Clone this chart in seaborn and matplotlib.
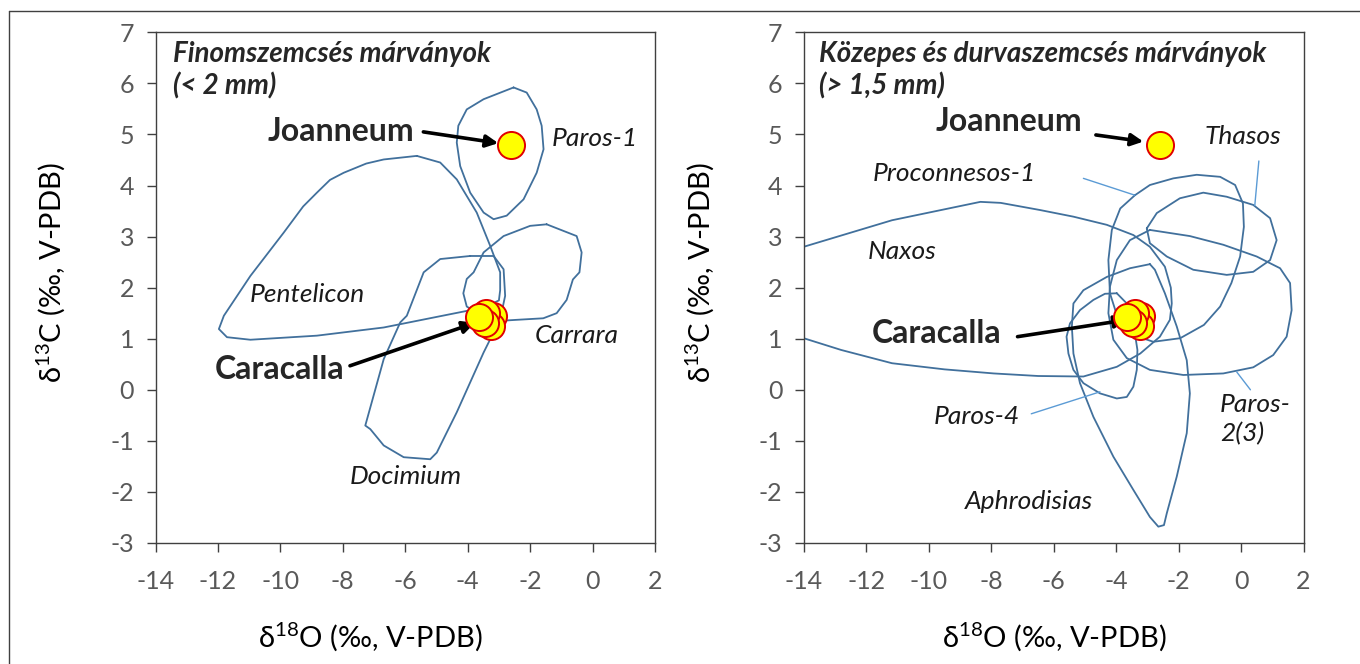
import matplotlib
matplotlib.use("Agg")
import matplotlib.pyplot as plt
from matplotlib.lines import Line2D
import seaborn as sns

# ── Data ─────────────────────────────────────────────────────────────────────

X_TICKS = [-14, -12, -10, -8, -6, -4, -2, 0, 2]
Y_TICKS = [-3, -2, -1, 0, 1, 2, 3, 4, 5, 6, 7]

# measured samples (same in both panels)
joanneum_x = [-2.6]
joanneum_y = [4.8]
caracalla_x = [-3.2, -3.25, -3.4, -3.45, -3.65]
caracalla_y = [1.45, 1.25, 1.5, 1.3, 1.43]

# left panel: fine-grained marble fields
paros1_x = [-2.53, -3.49, -4.03, -4.30, -4.35, -4.24, -3.92, -3.49, -3.17, -2.75,
            -2.21, -1.79, -1.57, -1.63, -1.79, -2.11]
paros1_y = [5.92, 5.69, 5.49, 5.17, 4.84, 4.38, 3.86, 3.47, 3.34, 3.41,
            3.73, 4.25, 4.71, 5.17, 5.49, 5.82]

pentelicon_x = [-5.63, -6.69, -7.25, -7.97, -8.41, -8.83, -9.27, -9.89, -10.96, -11.81,
                -11.97, -11.71, -10.96, -8.83, -6.69, -4.56, -3.49, -3.0, -2.96,
                -2.96, -3.28, -3.71, -4.35, -4.88]
pentelicon_y = [4.58, 4.51, 4.43, 4.25, 4.11, 3.86, 3.59, 3.08, 2.23, 1.45,
                1.19, 1.03, 0.98, 1.06, 1.22, 1.48, 1.61, 1.75, 1.95,
                2.30, 2.82, 3.47, 4.12, 4.45]

carrara_x = [-1.47, -0.51, -0.35, -0.42, -0.63, -0.83, -1.15, -1.58, -2.43, -2.96,
             -3.50, -4.03, -4.14, -4.03, -3.81, -3.49, -2.85, -2.0]
carrara_y = [3.24, 3.01, 2.69, 2.30, 2.16, 1.76, 1.50, 1.40, 1.37, 1.35,
             1.43, 1.63, 1.89, 2.17, 2.30, 2.69, 3.01, 3.21]

docimium_x = [-3.92, -4.88, -5.41, -5.95, -6.16, -6.69, -7.28, -7.12, -6.69, -6.05,
              -5.2, -4.99, -4.35, -3.49, -2.96, -2.8, -2.85, -3.17]
docimium_y = [2.62, 2.56, 2.30, 1.45, 1.32, 0.60, -0.70, -0.77, -1.09, -1.32,
              -1.36, -1.23, -0.44, 0.73, 1.38, 1.84, 2.36, 2.62]

# right panel: medium / coarse-grained marble fields
thasos_x = [-3.02, -2.70, -1.96, -1.21, -0.46, 0.39, 0.93, 1.14, 0.93, 0.39,
            -0.46, -1.53, -2.38, -2.92]
thasos_y = [3.16, 3.46, 3.75, 3.86, 3.78, 3.62, 3.36, 2.93, 2.54, 2.31,
            2.25, 2.35, 2.61, 2.87]

procon_x = [-3.40, -2.92, -2.17, -1.42, -0.67, -0.19, 0.06, 0.09, -0.03, -0.31,
            -0.67, -1.19, -1.95, -2.81, -3.45, -3.93, -4.20, -4.25, -4.14, -3.87]
procon_y = [3.81, 4.01, 4.14, 4.21, 4.17, 4.01, 3.65, 3.19, 2.61, 2.09,
            1.63, 1.27, 1.01, 0.94, 1.07, 1.37, 1.89, 2.54, 3.13, 3.55]

paros23_x = [-2.92, -1.64, -0.57, 0.50, 1.25, 1.57, 1.62, 1.46, 1.03, 0.39,
             -0.57, -1.85, -2.92, -3.66, -4.09, -4.25, -4.20, -3.98, -3.56]
paros23_y = [3.13, 3.01, 2.84, 2.61, 2.38, 2.09, 1.56, 1.04, 0.68, 0.44,
             0.32, 0.29, 0.39, 0.62, 0.98, 1.50, 2.02, 2.54, 2.93]

naxos_x = [-15.0, -14.01, -11.18, -8.35, -7.70, -6.44, -5.37, -4.30, -3.45, -2.92,
           -2.44, -2.25, -2.22, -2.28, -2.60, -3.23, -3.98, -5.05, -6.5, -7.92,
           -9.5, -11.18, -12.81, -14.01, -15.0]
naxos_y = [2.62, 2.80, 3.32, 3.68, 3.66, 3.52, 3.39, 3.23, 3.03, 2.80,
           2.41, 2.00, 1.69, 1.37, 1.04, 0.71, 0.45, 0.26, 0.27, 0.32,
           0.40, 0.52, 0.78, 1.01, 1.20]

paros4_x = [-3.98, -4.36, -4.73, -5.16, -5.48, -5.59, -5.53, -5.37, -5.05, -4.52,
            -3.98, -3.66, -3.45, -3.34, -3.32, -3.45, -3.66]
paros4_y = [1.89, 1.88, 1.76, 1.56, 1.30, 1.04, 0.71, 0.39, 0.13, -0.07,
            -0.17, -0.14, 0.06, 0.39, 0.78, 1.30, 1.69]

aphro_x = [-2.92, -3.56, -4.30, -5.05, -5.37, -5.42, -5.37, -5.16, -4.73, -4.09,
           -3.45, -2.92, -2.65, -2.47, -2.38, -2.06, -1.74, -1.64, -1.74, -2.06,
           -2.44, -2.76]
aphro_y = [2.46, 2.38, 2.21, 1.95, 1.69, 1.24, 0.71, 0.13, -0.53, -1.31,
           -1.96, -2.49, -2.68, -2.65, -2.42, -1.70, -0.85, -0.07, 0.58, 1.24,
           1.89, 2.35]

# leader lines (label side first, then the point on the field outline)
procon_lead_x = [-5.05, -3.40]
procon_lead_y = [4.14, 3.81]
thasos_lead_x = [0.57, 0.44]
thasos_lead_y = [4.48, 3.61]
paros4_lead_x = [-6.72, -4.52]
paros4_lead_y = [-0.47, -0.04]
paros23_lead_x = [0.30, -0.14]
paros23_lead_y = [0.0, 0.35]

# ── Style ────────────────────────────────────────────────────────────────────

sns.set_theme(style="ticks")
FONT = ["Lato", "DejaVu Sans"]
plt.rcParams.update({
    "font.family": FONT,
    "mathtext.fontset": "custom",
    "mathtext.rm": "Lato",
    "axes.unicode_minus": False,
    "axes.edgecolor": "#404040",
    "axes.linewidth": 1.0,
    "xtick.color": "#404040",
    "ytick.color": "#404040",
    "xtick.labelcolor": "#595959",
    "ytick.labelcolor": "#595959",
})

LINE = "#41709c"
LEAD = "#5b9bd5"
ARROW = dict(arrowstyle="-|>", lw=2.6, color="black", mutation_scale=18,
             shrinkA=0, shrinkB=0)


def field(ax, xs, ys, closed=True):
    if closed:
        xs = list(xs) + [xs[0]]
        ys = list(ys) + [ys[0]]
    sns.lineplot(x=xs, y=ys, sort=False, estimator=None, ax=ax,
                 color=LINE, lw=1.3, zorder=2)


def leader(ax, xs, ys):
    sns.lineplot(x=xs, y=ys, sort=False, estimator=None, ax=ax,
                 color=LEAD, lw=1.0, zorder=2)


def samples(ax):
    kw = dict(s=380, color="#ffff00", edgecolor="#e00000", linewidth=1.4,
              zorder=5, ax=ax, legend=False)
    for x, y in zip(caracalla_x, caracalla_y):
        sns.scatterplot(x=[x], y=[y], **kw)
    sns.scatterplot(x=joanneum_x, y=joanneum_y, **kw)


def frame(ax, xlab_x, ylab_x):
    ax.set_xlim(-14, 2)
    ax.set_ylim(-3, 7)
    ax.set_xticks(X_TICKS)
    ax.set_yticks(Y_TICKS)
    ax.tick_params(direction="out", length=6.5, width=1.0, labelsize=18, pad=9)
    ax.tick_params(axis="x", pad=13)
    for s in ax.spines.values():
        s.set_visible(True)
        s.set_color("#404040")
        s.set_linewidth(1.0)
    ax.set_xlabel(r"δ$^{\mathregular{18}}$O (‰, V-PDB)", fontsize=21,
                  color="black")
    ax.set_ylabel(r"δ$^{\mathregular{13}}$C (‰, V-PDB)", fontsize=21,
                  color="black")
    ax.xaxis.set_label_coords(xlab_x, -0.152)
    ax.yaxis.set_label_coords(ylab_x, 0.53)


def label(ax, x, y, s, **kw):
    opts = dict(fontsize=19, fontstyle="italic", ha="center", va="center",
                color="#1a1a1a")
    opts.update(kw)
    ax.text(x, y, s, **opts)


def heading(ax, x, s):
    ax.text(x, 6.26, s, fontsize=20, fontweight="bold", fontstyle="italic",
            ha="left", va="center", linespacing=1.25)


def big(ax, x, y, s):
    ax.text(x, y, s, fontsize=23, fontweight="bold", ha="center", va="center")


fig = plt.figure(figsize=(13.6, 6.64), dpi=100)
ax1 = fig.add_axes([155.5 / 1360, 1 - 543 / 664, 499.5 / 1360, 510.7 / 664])
ax2 = fig.add_axes([804 / 1360, 1 - 543 / 664, 499.5 / 1360, 510.7 / 664])

# ── Left panel ───────────────────────────────────────────────────────────────
for xs, ys in [(paros1_x, paros1_y), (pentelicon_x, pentelicon_y),
               (carrara_x, carrara_y), (docimium_x, docimium_y)]:
    field(ax1, xs, ys)
samples(ax1)
frame(ax1, 0.431, -0.175)

heading(ax1, -13.45, "Finomszemcsés márványok\n(< 2 mm)")
label(ax1, 0.08, 4.92, "Paros-1")
label(ax1, -9.13, 1.86, "Pentelicon")
label(ax1, -0.51, 1.07, "Carrara")
label(ax1, -5.98, -1.70, "Docimium")

big(ax1, -8.07, 5.05, "Joanneum")
ax1.annotate("", xy=(-3.02, 4.83), xytext=(-5.42, 5.05), arrowprops=ARROW)
big(ax1, -10.02, 0.39, "Caracalla")
ax1.annotate("", xy=(-3.77, 1.31), xytext=(-7.77, 0.47), arrowprops=ARROW)

# ── Right panel ──────────────────────────────────────────────────────────────
for xs, ys in [(naxos_x, naxos_y), (thasos_x, thasos_y), (procon_x, procon_y),
               (paros23_x, paros23_y), (paros4_x, paros4_y), (aphro_x, aphro_y)]:
    field(ax2, xs, ys)
for xs, ys in [(procon_lead_x, procon_lead_y), (thasos_lead_x, thasos_lead_y),
               (paros4_lead_x, paros4_lead_y), (paros23_lead_x, paros23_lead_y)]:
    leader(ax2, xs, ys)
samples(ax2)
frame(ax2, 0.502, -0.174)

heading(ax2, -13.52, "Közepes és durvaszemcsés márványok\n(> 1,5 mm)")
label(ax2, 0.06, 4.95, "Thasos")
label(ax2, -9.17, 4.24, "Proconnesos-1")
label(ax2, -10.86, 2.70, "Naxos")
label(ax2, -8.46, -0.53, "Paros-4")
label(ax2, -6.78, -2.19, "Aphrodisias")
label(ax2, -0.68, -0.575, "Paros-\n2(3)", ha="left", linespacing=1.33)

big(ax2, -7.43, 5.25, "Joanneum")
ax2.annotate("", xy=(-3.13, 4.86), xytext=(-4.65, 4.99), arrowprops=ARROW)
big(ax2, -9.75, 1.11, "Caracalla")
ax2.annotate("", xy=(-3.66, 1.37), xytext=(-7.16, 1.04), arrowprops=ARROW)

# outer frame (left and top edge of the figure box)
fig.add_artist(Line2D([9 / 1360, 9 / 1360], [0, 1 - 11 / 664],
                      transform=fig.transFigure, color="#404040", lw=1.0))
fig.add_artist(Line2D([9 / 1360, 1], [1 - 11 / 664, 1 - 11 / 664],
                      transform=fig.transFigure, color="#404040", lw=1.0))

fig.savefig("out.png", dpi=100)
